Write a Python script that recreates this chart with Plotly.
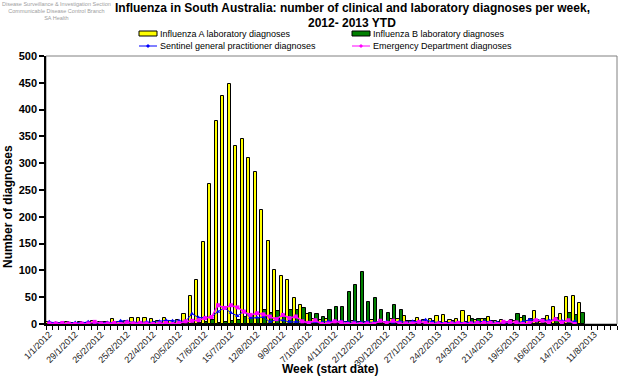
import plotly.graph_objects as go

# Week index 0 = week starting 1/1/2012 ; 88 weekly categories
weeks = list(range(88))

tick_positions = [0, 4, 8, 12, 16, 20, 24, 28, 32, 36, 40, 44, 48, 52, 56, 60, 64, 68, 72, 76, 80, 84]
tick_labels = ["1/1/2012", "29/1/2012", "26/2/2012", "25/3/2012", "22/4/2012", "20/5/2012",
               "17/6/2012", "15/7/2012", "12/8/2012", "9/9/2012", "7/10/2012", "4/11/2012",
               "2/12/2012", "30/12/2012", "27/1/2013", "24/2/2013", "24/3/2013", "21/4/2013",
               "19/5/2013", "16/6/2013", "14/7/2013", "11/8/2013"]

flu_a = [3, 2, 2, 3, 2, 4, 2, 6, 4, 4, 9, 4, 6, 11, 12, 12, 9, 6, 12, 6,
         7, 18, 52, 83, 153, 261, 379, 425, 448, 332, 345, 310, 284, 212, 155, 100, 90, 83, 49, 35,
         18, 9, 8, 9, 4, 3, 4, 6, 3, 3, 8, 4, 4, 9, 9, 15, 6, 12, 8, 9,
         15, 17, 8, 9, 24, 15, 8, 10, 13, 5, 8, 4, 5, 11, 5, 24, 4, 15, 31, 18,
         50, 52, 39, None, None, None, None, None]

flu_b = [2, 1, 2, 1, 2, 1, 3, 2, 3, 2, 1, 3, 4, 2, 3, 2, 3, 1, 3, 2,
         3, 2, 3, 2, 3, 7, 2, 4, 5, 8, 14, 17, 11, 27, 20, 24, 17, 26, 26, 29,
         20, 18, 14, 26, 31, 31, 59, 72, 97, 41, 48, 27, 20, 35, 26, 6, 5, 5, 4, 6,
         3, 4, 5, 3, 3, 9, 9, 9, 6, 3, 4, 8, 18, 15, 9, 8, 9, 6, 12, 4,
         20, 16, 20, None, None, None, None, None]

sentinel_gp = [4, 2, 2, 1, 3, 2, 4, 2, 2, 3, 2, 6, 5, 3, 3, 4, 3, 5, 7, 6,
               6, 5, 19, 12, 12, 13, 23, 30, 21, 15, 24, 11, 12, 13, 4, 8, 7, 4, 4, 4,
               3, 4, 3, 5, 5, 5, 3, 4, 3, 4, 3, 5, 4, 3, 5, 3, 5, 4, 8, 4,
               3, 2, 3, 3, 2, 3, 4, 5, 4, 3, 2, 2, 3, 4, 8, 7, 7, 7, 8, 6,
               5, 5, None, None, None, None, None, None]

emergency_dept = [1, 1, 2, 1, 0, 1, 1, 4, 1, 1, 2, 0, 3, 1, 2, 1, 0, 1, 2, 0,
                  2, 5, 6, 7, 11, 13, 35, 30, 35, 31, 23, 17, 20, 18, 14, 9, 17, 11, 14, 5,
                  2, 7, 0, 1, 5, 3, 0, 1, 0, 1, 0, 6, 2, 6, 1, 1, 1, 4, 2, 0,
                  1, 0, 1, 2, 0, 1, 2, 2, 2, 0, 4, 4, 3, 0, 2, 7, 6, 3, 9, 3,
                  7, 0, None, None, None, None, None, None]

series_names = ["Influenza A laboratory diagnoses", "Influenza B laboratory diagnoses",
                "Sentinel general practitioner diagnoses", "Emergency Department diagnoses"]
series_colors = ["#FFFF00", "#008000", "#0000FF", "#FF00FF"]

FONT = "Liberation Sans, Arial, sans-serif"

# plot area in pixels (for placing header / legend items)
PL, PR, PT, PB = 46, 617, 56, 324
def px(x):
    return (x - PL) / (PR - PL)
def py(y):
    return (PB - y) / (PB - PT)

fig = go.Figure()
fig.add_trace(go.Bar(x=weeks, y=flu_a, name=series_names[0],
                     marker=dict(color=series_colors[0], line=dict(color="black", width=1))))
fig.add_trace(go.Bar(x=weeks, y=flu_b, name=series_names[1],
                     marker=dict(color=series_colors[1], line=dict(color="black", width=1))))
fig.add_trace(go.Scatter(x=weeks, y=sentinel_gp, name=series_names[2],
                         mode="lines+markers", line=dict(color=series_colors[2], width=1),
                         marker=dict(symbol="triangle-up", size=4, color=series_colors[2])))
fig.add_trace(go.Scatter(x=weeks, y=emergency_dept, name=series_names[3],
                         mode="lines+markers", line=dict(color=series_colors[3], width=1.5),
                         marker=dict(symbol="square", size=4, color=series_colors[3])))

# legend drawn as header items (2 x 2 layout as in the original)
shapes = [dict(type="rect", xref="paper", yref="paper", x0=0, y0=0, x1=1, y1=1,
               line=dict(color="#808080", width=1), layer="below")]
annotations = []
leg_cols = [139, 352]
leg_rows = [33.5, 46]
for k, name in enumerate(series_names):
    cx = leg_cols[k % 2]
    cy = leg_rows[k // 2]
    if k < 2:
        shapes.append(dict(type="rect", xref="paper", yref="paper",
                           x0=px(cx), x1=px(cx + 18), y0=py(cy + 2.5), y1=py(cy - 2.5),
                           fillcolor=series_colors[k], line=dict(color="black", width=1)))
    else:
        shapes.append(dict(type="line", xref="paper", yref="paper",
                           x0=px(cx), x1=px(cx + 18), y0=py(cy), y1=py(cy),
                           line=dict(color=series_colors[k], width=1)))
        shapes.append(dict(type="rect", xref="paper", yref="paper",
                           x0=px(cx + 8), x1=px(cx + 10), y0=py(cy + 1), y1=py(cy - 1),
                           fillcolor=series_colors[k], line=dict(color=series_colors[k], width=1)))
    annotations.append(dict(text=name, xref="paper", yref="paper", x=px(cx + 19), y=py(cy),
                            xanchor="left", yanchor="middle", showarrow=False,
                            font=dict(size=9, family=FONT, color="black")))

annotations += [
    dict(text="<b>Influenza in South Australia: number of clinical and laboratory diagnoses per week,</b>",
         xref="paper", yref="paper", x=px(352), y=py(8), xanchor="center", yanchor="middle",
         showarrow=False, font=dict(size=12, family=FONT, color="black")),
    dict(text="<b>2012- 2013 YTD</b>",
         xref="paper", yref="paper", x=px(352), y=py(22.5), xanchor="center", yanchor="middle",
         showarrow=False, font=dict(size=12, family=FONT, color="black")),
    dict(text="Disease Surveillance & Investigation Section<br>Communicable Disease Control Branch<br>SA Health",
         xref="paper", yref="paper", x=px(56), y=py(11), xanchor="center", yanchor="middle",
         showarrow=False, font=dict(size=5.5, family=FONT, color="#A0A0A0")),
    dict(text="<b>Number of diagnoses</b>", xref="paper", yref="paper", x=px(8), y=py(207),
         xanchor="center", yanchor="middle", textangle=-90, showarrow=False,
         font=dict(size=12, family=FONT, color="black")),
    dict(text="<b>Week (start date)</b>", xref="paper", yref="paper", x=px(330), y=py(369),
         xanchor="center", yanchor="middle", showarrow=False,
         font=dict(size=12, family=FONT, color="black")),
]

fig.update_layout(
    width=628, height=379,
    margin=dict(l=PL, r=628 - PR, t=PT, b=379 - PB),
    paper_bgcolor="white", plot_bgcolor="white",
    barmode="group", bargap=0.0, bargroupgap=0.0,
    font=dict(family=FONT, color="black"),
    showlegend=False,
    xaxis=dict(range=[-0.5, 87.5], tickmode="array", tickvals=tick_positions, ticktext=tick_labels,
               tickangle=-45, ticks="", showgrid=False, zeroline=False,
               showline=True, linecolor="black", linewidth=1.5,
               tickfont=dict(size=9, family=FONT, color="#222222"),
               minor=dict(tickmode="linear", tick0=-0.5, dtick=1, ticks="outside",
                          ticklen=4, tickcolor="black", tickwidth=1, showgrid=False)),
    yaxis=dict(range=[0, 500], tickmode="linear", tick0=0, dtick=50, ticks="outside",
               ticklen=5, tickwidth=1.5, tickcolor="black", showgrid=False, zeroline=False,
               showline=True, linecolor="black", linewidth=1.5,
               tickfont=dict(size=11, family=FONT, color="black"), tickprefix="<b>", ticksuffix="</b>"),
    shapes=shapes,
    annotations=annotations,
)

fig.write_html("out.html")
